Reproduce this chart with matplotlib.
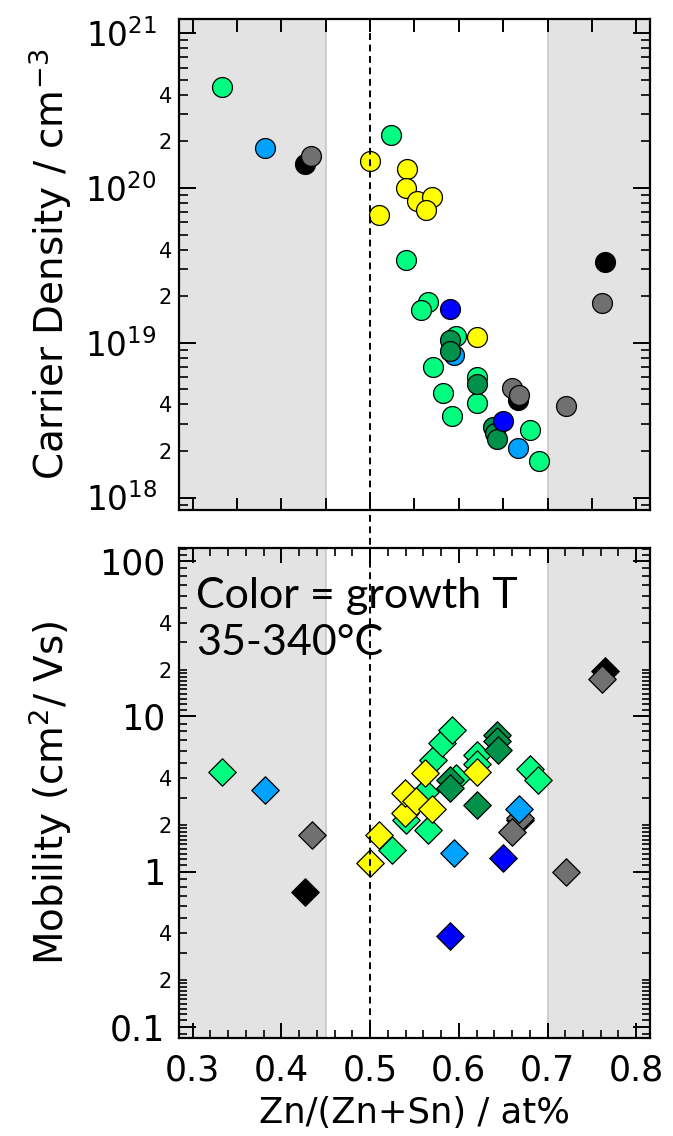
import numpy as np
import matplotlib
matplotlib.use("Agg")
import matplotlib.pyplot as plt
from matplotlib.ticker import FixedLocator, FuncFormatter, LogLocator, MultipleLocator
from matplotlib.lines import Line2D
import matplotlib.transforms as mtransforms

plt.rcParams['font.family'] = ['DejaVu Sans']
plt.rcParams['mathtext.fontset'] = 'dejavusans'

# ---------------- data ----------------
# Carrier density (cm^-3) vs Zn/(Zn+Sn), grouped by marker colour (growth T)
dens_lightgreen_x = [0.3335, 0.524, 0.541, 0.565, 0.5571, 0.5966, 0.5714, 0.6203, 0.582, 0.6203, 0.5925, 0.6805, 0.6906]
dens_lightgreen_y = [4.46e20, 2.21e20, 3.43e19, 1.83e19, 1.63e19, 1.11e19, 6.97e18, 6.0e18, 4.75e18, 4.06e18, 3.37e18, 2.74e18, 1.73e18]
dens_darkgreen_x = [0.5902, 0.5902, 0.6203, 0.638, 0.641, 0.6436]
dens_darkgreen_y = [1.05e19, 8.8e18, 5.4e18, 2.85e18, 2.6e18, 2.38e18]
dens_yellow_x = [0.5004, 0.5421, 0.541, 0.5526, 0.5703, 0.5628, 0.5102, 0.6203]
dens_yellow_y = [1.50e20, 1.33e20, 9.95e19, 8.3e19, 8.7e19, 7.2e19, 6.7e19, 1.09e19]
dens_cyan_x = [0.381, 0.5951, 0.6665]
dens_cyan_y = [1.81e20, 8.3e18, 2.1e18]
dens_blue_x = [0.5902, 0.65]
dens_blue_y = [1.65e19, 3.13e18]
dens_gray_x = [0.4338, 0.6605, 0.6684, 0.7207, 0.7617]
dens_gray_y = [1.62e20, 5.1e18, 4.6e18, 3.9e18, 1.8e19]
dens_black_x = [0.4263, 0.6665, 0.765]
dens_black_y = [1.42e20, 4.3e18, 3.33e19]

# Mobility (cm^2/Vs)
mob_lightgreen_x = [0.3327, 0.5244, 0.5406, 0.562, 0.565, 0.5714, 0.5808, 0.592, 0.597, 0.6203, 0.6203, 0.6805, 0.6898]
mob_lightgreen_y = [4.4, 1.38, 2.15, 3.28, 1.86, 5.25, 6.7, 8.2, 4.0, 5.66, 4.9, 4.6, 3.9]
mob_darkgreen_x = [0.5902, 0.5902, 0.6203, 0.6428, 0.6428, 0.6447]
mob_darkgreen_y = [3.9, 3.47, 2.7, 7.6, 6.9, 6.1]
mob_yellow_x = [0.5, 0.5102, 0.5398, 0.5398, 0.5519, 0.5703, 0.562, 0.6203]
mob_yellow_y = [1.14, 1.73, 2.4, 3.2, 2.83, 2.52, 4.3, 4.4]
mob_cyan_x = [0.3812, 0.5951, 0.6673]
mob_cyan_y = [3.37, 1.31, 2.52]
mob_blue_x = [0.5902, 0.65]
mob_blue_y = [0.385, 1.22]
mob_gray_x = [0.4342, 0.6692, 0.6605, 0.7207, 0.7617]
mob_gray_y = [1.71, 2.2, 1.81, 1.0, 17.4]
mob_black_x = [0.4263, 0.6692, 0.765]
mob_black_y = [0.74, 2.15, 19.5]

# styling
C_LG = '#00FF80'
C_DG = '#00914A'
C_Y = '#FFFF00'
C_CY = '#00A2FF'
C_BL = '#0000FF'
C_GR = '#707070'
C_BK = '#000000'

shade_left = 0.45
shade_right = 0.70
stoich_x = 0.5

fig = plt.figure(figsize=(6.73, 11.36), dpi=100)
ax1 = fig.add_axes([0.266, 0.5511, 0.6998, 0.4322])
ax2 = fig.add_axes([0.266, 0.0863, 0.6998, 0.4313])

xlim = (0.2846, 0.8155)
shade_col = '#E3E3E3'

for ax in (ax1, ax2):
    ax.set_xlim(*xlim)
    ax.set_yscale('log')
    ax.axvspan(xlim[0], shade_left, color=shade_col, zorder=0, lw=0)
    ax.axvspan(shade_right, xlim[1], color=shade_col, zorder=0, lw=0)
    ax.axvline(shade_left, color='#C8C8C8', lw=1.2, zorder=0.5)
    ax.axvline(shade_right, color='#C8C8C8', lw=1.2, zorder=0.5)
    for sp in ax.spines.values():
        sp.set_linewidth(1.6)
        sp.set_zorder(10)

ax1.set_ylim(10**17.92, 10**21.092)
ax2.set_ylim(10**-1.073, 10**2.086)

ms_c = 205
ms_d = 195
ew = 0.9

def sc(ax, x, y, c, m, s):
    ax.scatter(x, y, s=s, c=c, marker=m, edgecolors='black', linewidths=ew, zorder=3)

# top panel (circles)
sc(ax1, dens_black_x, dens_black_y, C_BK, 'o', ms_c)
sc(ax1, dens_gray_x, dens_gray_y, C_GR, 'o', ms_c)
sc(ax1, dens_yellow_x, dens_yellow_y, C_Y, 'o', ms_c)
sc(ax1, dens_cyan_x, dens_cyan_y, C_CY, 'o', ms_c)
sc(ax1, dens_lightgreen_x, dens_lightgreen_y, C_LG, 'o', ms_c)
sc(ax1, dens_darkgreen_x, dens_darkgreen_y, C_DG, 'o', ms_c)
sc(ax1, dens_blue_x, dens_blue_y, C_BL, 'o', ms_c)

# bottom panel (diamonds)
sc(ax2, mob_black_x, mob_black_y, C_BK, 'D', ms_d)
sc(ax2, mob_gray_x, mob_gray_y, C_GR, 'D', ms_d)
sc(ax2, mob_cyan_x, mob_cyan_y, C_CY, 'D', ms_d)
sc(ax2, mob_lightgreen_x, mob_lightgreen_y, C_LG, 'D', ms_d)
sc(ax2, mob_yellow_x, mob_yellow_y, C_Y, 'D', ms_d)
sc(ax2, mob_darkgreen_x, mob_darkgreen_y, C_DG, 'D', ms_d)
sc(ax2, mob_blue_x, mob_blue_y, C_BL, 'D', ms_d)

# dashed stoichiometry line spanning both panels and the gap
trans = mtransforms.blended_transform_factory(ax1.transData, fig.transFigure)
fig.add_artist(Line2D([stoich_x, stoich_x], [0.0863, 0.9833], transform=trans,
                      color='black', lw=1.4, ls=(0, (3.5, 2.4)), zorder=2))

# ---------- ticks ----------
# top panel
ax1.xaxis.set_major_locator(MultipleLocator(0.05))
ax1.xaxis.set_minor_locator(FixedLocator([]))
ax1.tick_params(axis='x', which='major', direction='in', top=True, bottom=True,
                length=9, width=1.4, labelbottom=False)
ax1.yaxis.set_major_locator(LogLocator(base=10, numticks=10))
ax1.yaxis.set_minor_locator(LogLocator(base=10, subs=np.arange(2, 10), numticks=20))

def dens_major(v, pos):
    e = int(round(np.log10(v)))
    return r'$10^{%d}$' % e

def minor_lab(v, pos):
    m = v / 10 ** np.floor(np.log10(v) + 1e-9)
    m = int(round(m * 10)) / 10
    if abs(m - 2) < 1e-6:
        return '2'
    if abs(m - 4) < 1e-6:
        return '4'
    return ''

ax1.yaxis.set_major_formatter(FuncFormatter(dens_major))
ax1.yaxis.set_minor_formatter(FuncFormatter(minor_lab))
ax1.tick_params(axis='y', which='major', direction='in', left=True, right=True,
                length=12, width=1.4, labelsize=23.5, pad=16)
ax1.tick_params(axis='y', which='minor', direction='in', left=True, right=True,
                length=6.5, width=1.2, labelsize=15, pad=5)

# bottom panel
ax2.xaxis.set_major_locator(MultipleLocator(0.1))
ax2.xaxis.set_minor_locator(MultipleLocator(0.02))
ax2.xaxis.set_major_formatter(FuncFormatter(lambda v, p: '%.1f' % v))
ax2.tick_params(axis='x', which='major', direction='in', top=True, bottom=True,
                length=11, width=1.4, labelsize=25, pad=11)
ax2.tick_params(axis='x', which='minor', direction='in', top=True, bottom=True,
                length=6, width=1.2)
ax2.yaxis.set_major_locator(LogLocator(base=10, numticks=10))
ax2.yaxis.set_minor_locator(LogLocator(base=10, subs=[1.1, 1.2, 1.3, 1.4, 1.5, 1.6, 1.7, 1.8, 1.9,
                                                          2, 3, 4, 5, 6, 7, 8, 9], numticks=40))

def mob_major(v, pos):
    if v >= 1:
        return '%d' % int(round(v))
    return '%g' % v

ax2.yaxis.set_major_formatter(FuncFormatter(mob_major))
ax2.yaxis.set_minor_formatter(FuncFormatter(minor_lab))
ax2.tick_params(axis='y', which='major', direction='in', left=True, right=True,
                length=12, width=1.4, labelsize=25, pad=10)
ax2.tick_params(axis='y', which='minor', direction='in', left=True, right=True,
                length=6, width=1.2, labelsize=15, pad=5)

# ---------- labels ----------
ax1.set_ylabel(r'Carrier Density / cm$^{-3}$', fontsize=28)
ax1.yaxis.set_label_coords(-0.222, 0.5)
ax2.set_ylabel(r'Mobility (cm$^{2}$/ Vs)', fontsize=28)
ax2.yaxis.set_label_coords(-0.222, 0.5)
ax2.set_xlabel('Zn/(Zn+Sn) / at%', fontsize=25.5, labelpad=6)

ax2.text(0.036, 0.94, 'Color = growth T\n35-340°C', transform=ax2.transAxes,
         fontsize=31, family=['Lato', 'DejaVu Sans'], va='top', ha='left',
         linespacing=1.28, zorder=5)

fig.savefig('out.png', dpi=100)
